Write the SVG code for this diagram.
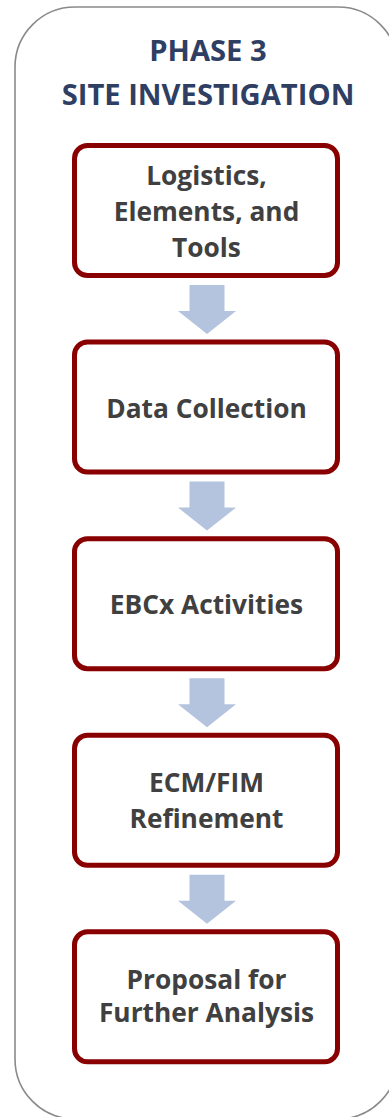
<svg xmlns="http://www.w3.org/2000/svg" width="389" height="1117" viewBox="0 0 389 1117">
<style>
.frame{fill:#fff;stroke:#8a8a8a;stroke-width:1.6}
.box{fill:#fff;stroke:#880000;stroke-width:5}
.arrow{fill:#b4c4de}
.title{font-family:"Open Sans",sans-serif;font-weight:bold;font-size:29.2px;fill:#2f3e63;text-anchor:middle}
.lbl{font-family:"Open Sans",sans-serif;font-weight:bold;font-size:26.3px;fill:#404040;text-anchor:middle}
</style>
<defs>
<path id="arr" class="arrow" d="M-17.5,0 H17.5 V26 H29 L0,49 L-29,26 H-17.5 Z"/>
</defs>
<rect class="frame" x="15" y="7" width="383" height="1112" rx="60" ry="60"/>
<g id="title">
<text class="title" x="208" y="60.5">PHASE 3</text>
<text class="title" x="208" y="105">SITE INVESTIGATION</text>
</g>
<g id="connectors">
<use href="#arr" x="207" y="285"/>
<use href="#arr" x="207" y="481.6"/>
<use href="#arr" x="207" y="678.2"/>
<use href="#arr" x="207" y="874.8"/>
</g>
<g id="node1">
<rect class="box" x="74.5" y="145.5" width="263" height="130" rx="13"/>
<text class="lbl" x="206.5" y="185">Logistics,</text>
<text class="lbl" x="206.5" y="221">Elements, and</text>
<text class="lbl" x="206.5" y="257">Tools</text>
</g>
<g id="node2">
<rect class="box" x="74.5" y="342" width="263" height="130" rx="13"/>
<text class="lbl" x="206.5" y="418">Data Collection</text>
</g>
<g id="node3">
<rect class="box" x="74.5" y="538.7" width="263" height="130" rx="13"/>
<text class="lbl" x="206.5" y="614">EBCx Activities</text>
</g>
<g id="node4">
<rect class="box" x="74.5" y="735.3" width="263" height="130" rx="13"/>
<text class="lbl" x="206.5" y="792">ECM/FIM</text>
<text class="lbl" x="206.5" y="828">Refinement</text>
</g>
<g id="node5">
<rect class="box" x="74.5" y="931.8" width="263" height="130" rx="13"/>
<text class="lbl" x="206.5" y="988.5">Proposal for</text>
<text class="lbl" x="206.5" y="1022">Further Analysis</text>
</g>
</svg>
